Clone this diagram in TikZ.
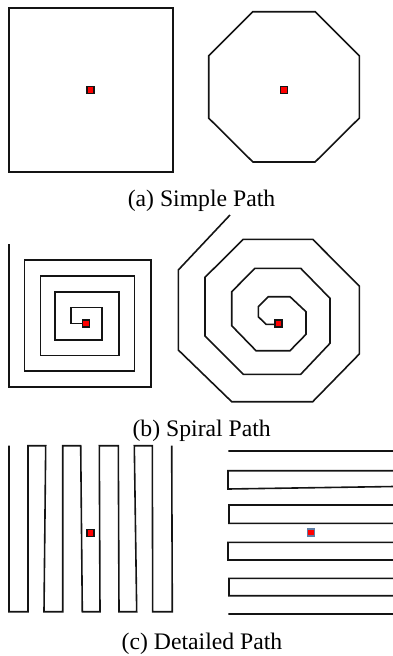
\documentclass[tikz,border=0pt]{standalone}
\usepackage{fontspec}
\setmainfont{Liberation Serif}
\usetikzlibrary{positioning}
\definecolor{pathcolor}{RGB}{20,20,20}
\definecolor{startfill}{RGB}{255,0,0}
\definecolor{startborder}{RGB}{20,20,20}
\definecolor{startblue}{RGB}{95,125,165}
\tikzset{
  pathline/.style={
    draw=pathcolor, line width=1.6pt, line join=miter
  },
  startbox/.style={
    draw=startborder, fill=startfill, line width=1.6pt,
    minimum size=7pt, inner sep=0pt
  },
  caption/.style={
    font=\fontsize{23.7}{28}\selectfont, anchor=base, inner sep=0pt
  }
}

\begin{document}
\begin{tikzpicture}[x=1pt, y=-1pt]
  \useasboundingbox (0,0) rectangle (392,656);

  % Panel (a): simple paths
  \draw[pathline] (9,8) rectangle (173,172);
  \draw[pathline] (252.9,11.7) -- (315.1,11.7) -- (359.3,55.9) -- (359.3,118.1)
    -- (315.1,162) -- (252.9,162) -- (208.7,118.1) -- (208.7,55.9) -- cycle;
  \node[startbox] (startA1) at (90.5,90) {};
  \node[startbox] (startA2) at (284,90) {};
  \node[caption] (capA) at (201.5,206.7) {(a) Simple Path};

  % Panel (b): spiral paths
  \draw[pathline] (9,244.3) -- (9,386.7) -- (151,386.7) -- (151,260)
    -- (24.3,260) -- (24.3,370.7) -- (134.3,370.7) -- (134.3,275.7)
    -- (40.3,275.7) -- (40.3,355.3) -- (119,355.3) -- (119,292)
    -- (55,292) -- (55,340) -- (102,340) -- (102,307.3)
    -- (70.7,307.3) -- (70.7,323.3) -- (86,323.3);
  \draw[pathline] (230,215) -- (178.3,270) -- (178.3,350) -- (231.7,401.7)
    -- (312.7,401.7) -- (359.3,354) -- (359.3,286) -- (312.7,239.3)
    -- (243.3,239.3) -- (205,277.3) -- (205,336) -- (243.3,374.3)
    -- (300.7,374.3) -- (330,343.3) -- (330,298.3) -- (300.7,268.3)
    -- (255,268.3) -- (231.7,291.7) -- (231.7,325.7) -- (256,350.7)
    -- (290,350.7) -- (306,334.3) -- (306,311.7) -- (290,296.7)
    -- (268.3,296.7) -- (258.3,306.7) -- (258.3,316.7) -- (266,324.3)
    -- (278.3,324.3);
  \node[startbox] (startB1) at (86,323.3) {};
  \node[startbox] (startB2) at (278.3,323.3) {};
  \node[caption] (capB) at (201.7,436.7) {(b) Spiral Path};

  % Panel (c): detailed paths
  \draw[pathline] (9,445.7) -- (9,611.7) -- (28,611.7) -- (28,445.7)
    -- (45.7,445.7) -- (44,611.7) -- (62.7,611.7) -- (62.7,445.7)
    -- (80.7,445.7) -- (82.3,611.7) -- (100,611.7) -- (99.3,445.7)
    -- (118.3,445.7) -- (119,611.7) -- (136.7,611.7) -- (134.3,445.7)
    -- (152.3,445.7) -- (152.7,611.7) -- (172.3,611.7) -- (171.7,445.7);
  \draw[pathline] (228.3,451) -- (394,451) -- (394,470.7) -- (228,470.7)
    -- (228,489) -- (394,486.5) -- (394,505) -- (229,505)
    -- (229,523.3) -- (394,523.3) -- (394,542.3) -- (228,542.3)
    -- (228,560) -- (394,560) -- (394,578.3) -- (229,578.3)
    -- (229,595.7) -- (394,595.7) -- (394,614) -- (228.3,614);
  \node[startbox] (startC1) at (90.7,533) {};
  \node[startbox, draw=startblue] (startC2) at (311,532.7) {};
  \node[caption] (capC) at (202,649.3) {(c) Detailed Path};
\end{tikzpicture}
\end{document}
